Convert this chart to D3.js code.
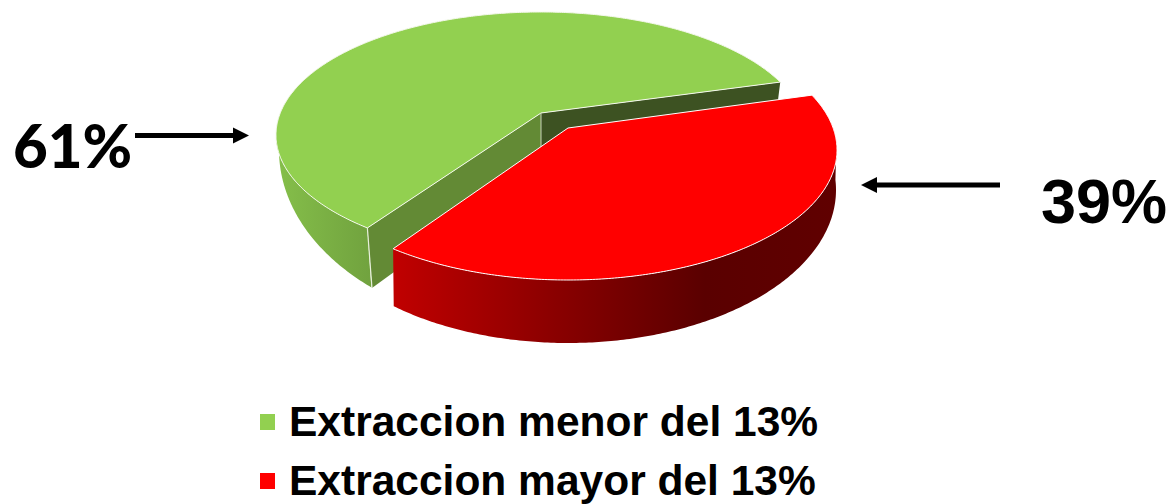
<!DOCTYPE html>
<html>
<head>
<meta charset="utf-8">
<script src="https://cdn.jsdelivr.net/npm/d3@7"></script>
<style>
  html, body { margin: 0; padding: 0; background: #fff; overflow: hidden; }
</style>
</head>
<body>
<script>
// Values
const categories = ['Extraccion menor del 13%', 'Extraccion mayor del 13%']
const values = [61, 39]
const percentLabels = ['61%', '39%']
const colors = ['#92d050', '#ff0000']

const width = 1173
const height = 504

// Each slice sits on its own tilted disc (the red one is pulled out)
const discs = [
  { cx: 541, cy: 135, rx: 265, ry: 123, centerY: 113, bx: 541, by: 189, brx: 258, bry: 131 },
  { cx: 568, cy: 150, rx: 269, ry: 130, centerY: 128, bx: 568, by: 190, brx: 268, bry: 153 }
]
// the curved green wall bulges more than the disc above it
const greenOuter = Object.assign({}, discs[0], { bx: 547, by: 150, brx: 268, bry: 182 })

const svg = d3.select('body').append('svg')
  .attr('width', width)
  .attr('height', height)
  .style('display', 'block')

const defs = svg.append('defs')

function wallGradient (id, x1, x2, stops) {
  const g = defs.append('linearGradient')
    .attr('id', id)
    .attr('gradientUnits', 'userSpaceOnUse')
    .attr('x1', x1).attr('x2', x2)
    .attr('y1', 0).attr('y2', 0)
  stops.forEach(s => g.append('stop').attr('offset', s[0]).attr('stop-color', s[1]))
}
wallGradient('greenWall', 276, 375, [[0, '#85bf4a'], [1, '#70a13e']])
wallGradient('redWall', 394, 838, [[0, '#c00000'], [0.35, '#8c0000'], [0.7, '#5a0000'], [1, '#600000']])

const pie = d3.pie()
  .sort(null)
  .startAngle(214.6 * Math.PI / 180)
  .endAngle(574.6 * Math.PI / 180)

const slices = pie(values)

// disc coordinates -> screen; t is 0 on the top face and 1 on the bottom face
function project (disc, u, v, t) {
  const a = (disc.centerY - disc.cy) / disc.ry
  const den = 1 + a * v
  const ex = u * Math.sqrt(1 - a * a) / den
  const ey = (v + a) / den
  const top = [disc.cx + disc.rx * ex, disc.cy + disc.ry * ey]
  const bot = [disc.bx + disc.brx * ex, disc.by + disc.bry * ey]
  return [top[0] + (bot[0] - top[0]) * t, top[1] + (bot[1] - top[1]) * t]
}

function rim (disc, a0, a1, t) {
  const angles = d3.range(a0, a1, 0.01).concat([a1])
  return angles.map(a => project(disc, Math.sin(a), -Math.cos(a), t))
}

const line = d3.line()
const closed = pts => line(pts) + 'Z'

function drawWall (pts, fill) {
  svg.append('path')
    .attr('d', closed(pts))
    .attr('fill', fill)
}

const green = slices[0]
const red = slices[1]
const gd = discs[0]
const rd = discs[1]

const gc = project(gd, 0, 0, 0)
const gcB = project(gd, 0, 0, 1)
const edge = (d, a, t) => project(d, Math.sin(a), -Math.cos(a), t)

// green inner walls
drawWall([gc, edge(gd, green.endAngle, 0), edge(gd, green.endAngle, 1), gcB], '#3d5222')
drawWall([gc, edge(gd, green.startAngle, 0), edge(gd, green.startAngle, 1), gcB], '#638a35')

// green outer wall, only the part that faces us
const gFrontEnd = 262 * Math.PI / 180
drawWall(rim(greenOuter, green.startAngle, gFrontEnd, 0)
  .concat(rim(greenOuter, green.startAngle, gFrontEnd, 1).reverse()), 'url(#greenWall)')

// green top
svg.append('path')
  .attr('d', closed([gc].concat(rim(gd, green.startAngle, green.endAngle, 0))))
  .attr('fill', colors[0])
  .attr('stroke', '#f4f8ec')
  .attr('stroke-width', 1)
  .attr('stroke-linejoin', 'round')

// light edges on the green block
svg.append('path')
  .attr('d', line([edge(gd, green.startAngle, 0), edge(gd, green.startAngle, 1)]))
  .attr('stroke', '#e8f0dc').attr('stroke-width', 1.2).attr('fill', 'none')
svg.append('path')
  .attr('d', line([gc, [gc[0], gc[1] + 35]]))
  .attr('stroke', '#c8d2b8').attr('stroke-width', 1).attr('fill', 'none')

// red outer wall, again only the part that faces us (pie angles run past 360 here)
const rFrontStart = (360 + 96) * Math.PI / 180
drawWall(rim(rd, rFrontStart, red.endAngle, 0)
  .concat(rim(rd, rFrontStart, red.endAngle, 1).reverse()), 'url(#redWall)')

// red top
const rc = project(rd, 0, 0, 0)
svg.append('path')
  .attr('d', closed([rc].concat(rim(rd, red.startAngle, red.endAngle, 0))))
  .attr('fill', colors[1])
  .attr('stroke', '#fff')
  .attr('stroke-width', 1)
  .attr('stroke-linejoin', 'round')

// arrows
function arrow (x0, x1, y, head) {
  const dir = x1 > x0 ? 1 : -1
  svg.append('line')
    .attr('x1', x0).attr('x2', x1 - dir * head)
    .attr('y1', y).attr('y2', y)
    .attr('stroke', '#000').attr('stroke-width', 5)
  svg.append('path')
    .attr('d', closed([[x1, y], [x1 - dir * head, y - 8], [x1 - dir * head, y + 8]]))
    .attr('fill', '#000')
}
arrow(135, 249, 135.5, 16)
arrow(1000, 861, 185, 16)

// percent labels
svg.append('text')
  .attr('x', 13).attr('y', 168)
  .attr('font-family', 'Lato, sans-serif')
  .attr('font-weight', 900)
  .attr('font-size', 60)
  .text(percentLabels[0])
svg.append('text')
  .attr('x', 1041).attr('y', 223)
  .attr('font-family', '"Liberation Sans", Arial, sans-serif')
  .attr('font-weight', 700)
  .attr('font-size', 63)
  .text(percentLabels[1])

// legend
const legendY = d3.scalePoint().domain(categories).range([436, 495])
const legend = svg.selectAll('.legend')
  .data(categories)
  .enter().append('g')
  .attr('class', 'legend')
  .attr('transform', d => `translate(0, ${legendY(d)})`)

legend.append('rect')
  .attr('x', 260).attr('y', -22)
  .attr('width', 15).attr('height', 16)
  .attr('fill', (d, i) => colors[i])

legend.append('text')
  .attr('x', 289).attr('y', 0)
  .attr('font-family', '"Liberation Sans", Arial, sans-serif')
  .attr('font-weight', 700)
  .attr('font-size', 42.5)
  .text(d => d)
</script>
</body>
</html>
